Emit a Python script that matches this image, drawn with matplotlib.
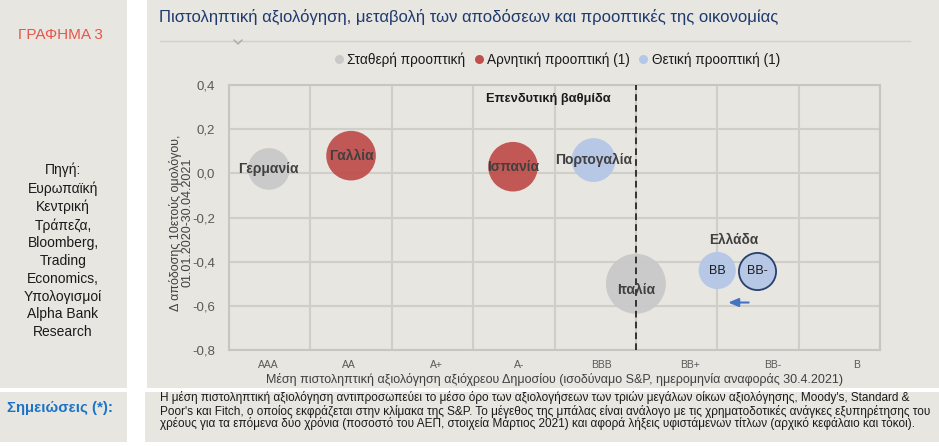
import matplotlib
matplotlib.use("Agg")
import matplotlib.pyplot as plt
from matplotlib.patches import Rectangle
from matplotlib.lines import Line2D

plt.rcParams['font.family'] = ['Liberation Sans', 'DejaVu Sans']

# data
countries = ['Γερμανία', 'Γαλλία', 'Ισπανία', 'Πορτογαλία', 'Ιταλία', 'BB', 'BB-']
rating_pos = [0.49, 1.5, 3.49, 4.48, 5.0, 6.0, 6.49]
yield_change = [0.02, 0.08, 0.03, 0.06, -0.50, -0.44, -0.44]
financing_needs = [14.5, 20.5, 20.5, 16.0, 30.0, 11.5, 11.5]
outlook = ['stable', 'negative', 'negative', 'positive', 'stable', 'positive', 'positive']

rating_labels = ['AAA', 'AA', 'A+', 'A-', 'BBB', 'BB+', 'BB-', 'B']
rating_label_pos = [0.48, 1.47, 2.55, 3.57, 4.58, 5.66, 6.68, 7.71]
yticks = [-0.8, -0.6, -0.4, -0.2, 0.0, 0.2, 0.4]

colors = {'stable': '#c9c9c9', 'negative': '#c0504d', 'positive': '#b4c7e7'}
legend_names = {'stable': 'Σταθερή προοπτική',
                'negative': 'Αρνητική προοπτική (1)',
                'positive': 'Θετική προοπτική (1)'}

W, H = 939, 446
bg = '#e7e6e1'
fig = plt.figure(figsize=(W / 100, H / 100), dpi=100, facecolor='white')


def fx(px):
    return px / W


def fy(py):
    return 1 - py / H


# panels
for x0, y0, x1, y1 in [(0, 0, 127, 388), (147, 0, 939, 388),
                       (0, 392, 127, 442), (145, 392, 939, 442)]:
    fig.patches.append(Rectangle((fx(x0), fy(y1)), fx(x1 - x0), (y1 - y0) / H,
                                 transform=fig.transFigure, facecolor=bg,
                                 edgecolor='none', zorder=-10))

fig.text(fx(60), fy(35), 'ΓΡΑΦΗΜΑ 3', color='#e5574a', fontsize=11,
         ha='center', va='center')
fig.text(fx(63), fy(251), 'Πηγή:\nΕυρωπαϊκή\nΚεντρική\nΤράπεζα,\nBloomberg,\nTrading\n'
         'Economics,\nΥπολογισμοί\nAlpha Bank\nResearch',
         fontsize=10, ha='center', va='center', linespacing=1.34, color='#1a1a1a')
fig.text(fx(60), fy(408), 'Σημειώσεις (*):', color='#1c74c6', fontsize=10.8,
         fontweight='bold', ha='center', va='center')

fig.text(fx(159), fy(17), 'Πιστοληπτική αξιολόγηση, μεταβολή των αποδόσεων και '
         'προοπτικές της οικονομίας', color='#1f3a6e', fontsize=12,
         ha='left', va='center')
fig.add_artist(Line2D([fx(160), fx(910)], [fy(41), fy(41)], color='#d2d0cb', lw=1))
fig.add_artist(Line2D([fx(234), fx(238), fx(242)], [fy(40), fy(44), fy(40)],
                      color='#a6a6a6', lw=0.9))

notes = ["Η μέση πιστοληπτική αξιολόγηση αντιπροσωπεύει το μέσο όρο των αξιολογήσεων των "
         "τριών μεγάλων οίκων αξιολόγησης, Moody's, Standard &",
         "Poor's και Fitch, ο οποίος εκφράζεται στην κλίμακα της S&P. Το μέγεθος της μπάλας "
         "είναι ανάλογο με τις χρηματοδοτικές ανάγκες εξυπηρέτησης του",
         "χρέους για τα επόμενα δύο χρόνια (ποσοστό του ΑΕΠ, στοιχεία Μάρτιος 2021) και "
         "αφορά λήξεις υφιστάμενων τίτλων (αρχικό κεφάλαιο και τόκοι)."]
for i, line in enumerate(notes):
    fig.text(fx(160), fy(398 + 13 * i), line, fontsize=8.45, ha='left', va='center',
             color='#1a1a1a')

# axes
ax = fig.add_axes([fx(229), fy(350), fx(880 - 229), (350 - 85) / H])
ax.set_facecolor(bg)
ax.set_xlim(0, 8)
ax.set_ylim(-0.8, 0.4)
ax.set_xticks(range(9))
ax.set_xticklabels([])
ax.set_xticks(rating_label_pos, rating_labels, minor=True)
ax.set_yticks(yticks, [f'{v:.1f}'.replace('.', ',') for v in yticks])
ax.tick_params(which='both', length=0, colors='#595959')
ax.tick_params(axis='x', which='minor', labelsize=7.5, pad=7)
ax.tick_params(axis='y', labelsize=9.5, pad=10)
ax.grid(True, which='major', color='#d0cec9', lw=1.5)
for sp in ax.spines.values():
    sp.set_color('#c8c6c1')
    sp.set_linewidth(1.5)

k = (1.44 * 30) ** 2 / 30
for name, x, y, s, o in zip(countries, rating_pos, yield_change, financing_needs, outlook):
    ec = '#1f3864' if name == 'BB-' else 'none'
    ax.scatter(x, y, s=s * k, color=colors[o], edgecolors=ec, linewidths=1.3,
               alpha=0.95, zorder=3)
    if name.startswith('BB'):
        ax.text(x, y, name, ha='center', va='center', fontsize=9, color='#1a1a1a', zorder=5)
    else:
        dy = -0.03 if name == 'Ιταλία' else 0
        ax.text(x, y + dy, name, ha='center', va='center', fontsize=10,
                fontweight='bold', color='#404040', zorder=5)

ax.axvline(5.0, color='#1a1a1a', lw=1.2, ls=(0, (4, 2.5)), zorder=4)
ax.text(3.92, 0.337, 'Επενδυτική βαθμίδα', fontsize=9.3, fontweight='bold',
        ha='center', va='center', color='#1a1a1a')
ax.text(6.2, -0.30, 'Ελλάδα', fontsize=9.8, fontweight='bold', ha='center',
        va='center', color='#404040')
ax.annotate('', xy=(6.1, -0.585), xytext=(6.42, -0.585),
            arrowprops=dict(arrowstyle='-|>,head_length=0.6,head_width=0.25',
                            color='#4472c4', lw=1.5))

ax.set_ylabel('Δ απόδοσης 10ετούς ομολόγου,\n01.01.2020-30.04.2021', fontsize=9,
              color='#404040', linespacing=0.95)
ax.yaxis.set_label_coords(-0.055, 0.48)
ax.set_xlabel('Μέση πιστοληπτική αξιολόγηση αξιόχρεου Δημοσίου (ισοδύναμο S&P, '
              'ημερομηνία αναφοράς 30.4.2021)', fontsize=9, color='#404040', labelpad=2)

handles = [Line2D([], [], marker='o', ls='none', markersize=6.5, color=colors[key],
                  markeredgecolor='none', label=legend_names[key])
           for key in ['stable', 'negative', 'positive']]
fig.legend(handles=handles, loc='center', bbox_to_anchor=(fx(556), fy(60)), ncol=3,
           frameon=False, fontsize=9.8, handletextpad=0.1, columnspacing=0.5,
           handlelength=1.0, labelcolor='#1a1a1a')

fig.savefig('out.png', dpi=100, facecolor='white')
